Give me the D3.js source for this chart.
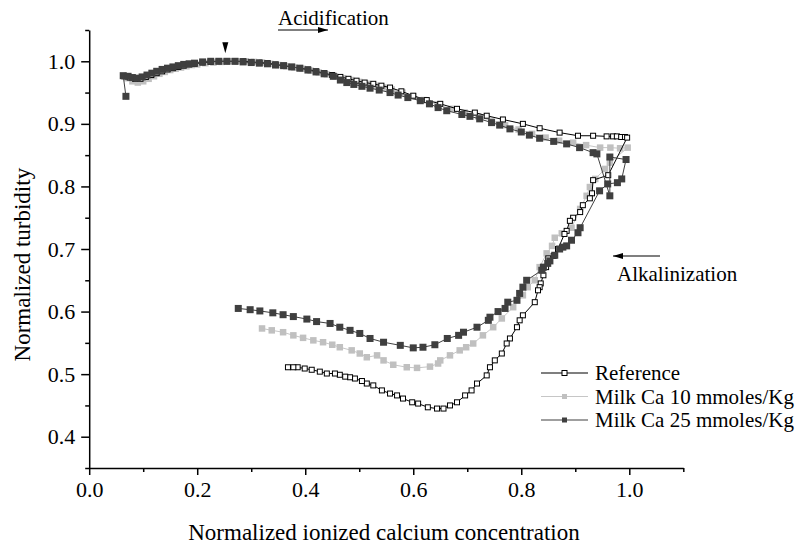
<!DOCTYPE html>
<html>
<head>
<meta charset="utf-8">
<script src="https://cdn.jsdelivr.net/npm/d3@7"></script>
<style>
  html, body { margin: 0; padding: 0; background: #fff; }
  svg text { font-family: "Liberation Serif", "Times New Roman", Times, "DejaVu Serif", serif !important; }
</style>
</head>
<body>
<svg id="chart" width="797" height="548"></svg>
<script>
// Normalized turbidity vs normalized ionized calcium, acidification then alkalinization.
const referencePoints = [
  [0.065,0.976],[0.075,0.974],[0.085,0.972],[0.095,0.972],[0.105,0.975],[0.115,0.978],[0.125,0.981],
  [0.135,0.984],[0.145,0.987],[0.155,0.989],[0.165,0.991],[0.175,0.993],[0.185,0.995],[0.195,0.996],
  [0.21,0.998],[0.225,0.999],[0.24,1.0],[0.255,1.0],[0.27,1.0],[0.285,1.0],[0.30,0.999],[0.315,0.998],
  [0.33,0.997],[0.345,0.995],[0.36,0.993],[0.375,0.991],[0.39,0.989],[0.405,0.987],[0.42,0.984],
  [0.435,0.981],[0.45,0.978],[0.465,0.975],[0.48,0.972],[0.495,0.969],[0.51,0.966],[0.526,0.964],
  [0.541,0.961],[0.557,0.958],[0.578,0.952],[0.600,0.945],[0.625,0.938],[0.650,0.932],[0.681,0.924],
  [0.714,0.918],[0.736,0.913],[0.766,0.907],[0.803,0.900],[0.834,0.893],[0.871,0.886],[0.905,0.881],
  [0.933,0.881],[0.958,0.880],[0.970,0.880],[0.977,0.880],[0.985,0.879],[0.992,0.879],[0.996,0.878],
  [0.961,0.818],[0.933,0.810],[0.931,0.789],[0.927,0.781],[0.914,0.770],[0.909,0.759],[0.896,0.750],
  [0.890,0.745],[0.884,0.729],[0.880,0.724],[0.868,0.700],[0.860,0.689],[0.850,0.685],[0.846,0.671],
  [0.841,0.658],[0.836,0.645],[0.834,0.639],[0.831,0.634],[0.825,0.615],[0.803,0.594],[0.797,0.586],
  [0.792,0.575],[0.779,0.557],[0.773,0.549],[0.764,0.533],[0.751,0.522],[0.742,0.511],[0.736,0.498],
  [0.718,0.485],[0.708,0.474],[0.696,0.466],[0.681,0.455],[0.668,0.450],[0.656,0.445],[0.644,0.445],
  [0.627,0.447],[0.609,0.453],[0.598,0.455],[0.581,0.461],[0.570,0.466],[0.557,0.469],[0.542,0.474],
  [0.526,0.482],[0.514,0.485],[0.505,0.489],[0.492,0.493],[0.483,0.495],[0.474,0.496],[0.464,0.499],
  [0.455,0.501],[0.440,0.501],[0.427,0.504],[0.412,0.507],[0.399,0.509],[0.386,0.511],[0.378,0.511],
  [0.368,0.511]
];

const milkCa10Points = [
  [0.07,0.973],[0.08,0.968],[0.09,0.966],[0.10,0.968],[0.11,0.972],[0.12,0.976],[0.13,0.980],[0.14,0.983],
  [0.15,0.986],[0.16,0.988],[0.17,0.990],[0.18,0.992],[0.19,0.994],[0.20,0.995],[0.215,0.997],[0.23,0.998],
  [0.245,0.999],[0.26,1.0],[0.275,1.0],[0.29,1.0],[0.305,0.999],[0.32,0.998],[0.335,0.996],[0.35,0.994],
  [0.365,0.992],[0.38,0.990],[0.395,0.988],[0.41,0.985],[0.425,0.982],[0.44,0.979],[0.455,0.976],
  [0.47,0.973],[0.485,0.970],[0.50,0.967],[0.515,0.964],[0.53,0.961],[0.545,0.958],[0.56,0.955],
  [0.58,0.950],[0.60,0.944],[0.62,0.938],[0.645,0.931],[0.67,0.924],[0.695,0.918],[0.72,0.912],
  [0.745,0.905],[0.77,0.898],[0.795,0.891],[0.82,0.884],[0.845,0.878],[0.87,0.873],[0.896,0.870],
  [0.92,0.866],[0.946,0.862],[0.965,0.862],[0.983,0.861],[0.997,0.862],
  [0.964,0.838],[0.955,0.828],[0.937,0.812],[0.927,0.799],[0.921,0.785],[0.909,0.764],[0.893,0.734],
  [0.875,0.725],[0.862,0.718],[0.857,0.705],[0.847,0.693],[0.834,0.671],[0.825,0.650],[0.812,0.639],
  [0.803,0.626],[0.785,0.607],[0.764,0.589],[0.748,0.575],[0.729,0.562],[0.711,0.549],[0.698,0.543],
  [0.686,0.538],[0.668,0.530],[0.650,0.522],[0.646,0.517],[0.631,0.512],[0.607,0.510],[0.588,0.511],
  [0.563,0.515],[0.545,0.522],[0.533,0.530],[0.514,0.527],[0.501,0.533],[0.486,0.538],[0.464,0.543],
  [0.450,0.547],[0.433,0.551],[0.415,0.554],[0.396,0.558],[0.378,0.562],[0.359,0.567],[0.338,0.570],
  [0.320,0.573]
];

const milkCa25Points = [
  [0.068,0.944],[0.063,0.977],[0.072,0.976],[0.080,0.974],[0.089,0.973],[0.098,0.975],[0.107,0.978],
  [0.116,0.981],[0.125,0.984],[0.135,0.987],[0.145,0.989],[0.155,0.991],[0.165,0.993],[0.175,0.995],
  [0.185,0.996],[0.195,0.997],[0.21,0.999],[0.225,1.0],[0.24,1.0],[0.255,1.0],[0.27,1.0],[0.285,0.999],
  [0.30,0.998],[0.315,0.997],[0.33,0.996],[0.345,0.994],[0.36,0.993],[0.375,0.991],[0.39,0.989],
  [0.405,0.986],[0.42,0.983],[0.435,0.980],[0.452,0.976],[0.465,0.970],[0.477,0.966],[0.49,0.963],
  [0.505,0.960],[0.52,0.957],[0.537,0.954],[0.557,0.950],[0.572,0.946],[0.59,0.942],[0.613,0.937],
  [0.63,0.932],[0.646,0.926],[0.662,0.921],[0.69,0.915],[0.705,0.912],[0.723,0.908],[0.745,0.902],
  [0.760,0.898],[0.779,0.892],[0.80,0.887],[0.815,0.882],[0.834,0.877],[0.860,0.872],[0.884,0.868],
  [0.908,0.862],[0.933,0.854],[0.940,0.852],[0.964,0.785],[0.964,0.847],[0.994,0.843],[0.986,0.812],
  [0.978,0.806],[0.960,0.804],[0.945,0.793],
  [0.909,0.734],[0.905,0.726],[0.893,0.714],[0.884,0.705],[0.877,0.703],[0.871,0.700],[0.862,0.690],
  [0.853,0.681],[0.849,0.677],[0.841,0.671],[0.838,0.666],[0.810,0.650],[0.803,0.639],[0.797,0.629],
  [0.792,0.618],[0.775,0.615],[0.770,0.605],[0.757,0.600],[0.742,0.591],[0.739,0.586],[0.718,0.575],
  [0.693,0.567],[0.684,0.562],[0.663,0.557],[0.640,0.547],[0.618,0.543],[0.600,0.542],[0.576,0.546],
  [0.545,0.551],[0.520,0.557],[0.501,0.565],[0.483,0.570],[0.464,0.575],[0.446,0.581],[0.421,0.584],
  [0.403,0.588],[0.378,0.592],[0.359,0.595],[0.340,0.598],[0.316,0.601],[0.298,0.603],[0.276,0.605]
];

const seriesNames = ["Reference", "Milk Ca 10 mmoles/Kg", "Milk Ca 25 mmoles/Kg"];
const xTickValues = [0.0, 0.2, 0.4, 0.6, 0.8, 1.0];
const xMinorTicks = [0.1, 0.3, 0.5, 0.7, 0.9, 1.1];
const yTickValues = [0.4, 0.5, 0.6, 0.7, 0.8, 0.9, 1.0];
const yMinorTicks = [0.35, 0.45, 0.55, 0.65, 0.75, 0.85, 0.95, 1.05];
const xLabel = "Normalized ionized calcium concentration";
const yLabel = "Normalized turbidity";
const acidLabel = "Acidification";
const alkLabel = "Alkalinization";
const peakX = 0.252;

const serif = "'Liberation Serif', 'Times New Roman', Times, 'DejaVu Serif', serif";
const svg = d3.select("#chart");
const x = d3.scaleLinear().domain([0, 1.1]).range([89.2, 683.3]);
const y = d3.scaleLinear().domain([0.35, 1.05]).range([468, 30]);

const fmt = d3.format(".1f");

// y axis: labelled major ticks and short minor ticks
svg.append("g").attr("transform", `translate(${x(0)},0)`)
  .call(d3.axisLeft(y).tickValues(yTickValues).tickFormat(fmt).tickSize(8).tickSizeOuter(0).tickPadding(6));
svg.append("g").attr("transform", `translate(${x(0)},0)`)
  .call(d3.axisLeft(y).tickValues(yMinorTicks).tickFormat("").tickSize(4).tickSizeOuter(0))
  .select(".domain").remove();

svg.append("g").attr("transform", `translate(0,${y(0.35)})`)
  .call(d3.axisBottom(x).tickValues(xTickValues).tickFormat(fmt).tickSize(7).tickSizeOuter(0).tickPadding(6));
svg.append("g").attr("transform", `translate(0,${y(0.35)})`)
  .call(d3.axisBottom(x).tickValues(xMinorTicks).tickFormat("").tickSize(4).tickSizeOuter(0))
  .select(".domain").remove();

svg.selectAll("g").attr("font-family", serif);
svg.selectAll(".domain, .tick line").attr("stroke", "#000").attr("stroke-width", 1.5);
svg.selectAll(".tick text").attr("font-family", serif).attr("font-size", 22).attr("fill", "#000");

// axis titles
svg.append("text").attr("x", 384).attr("y", 540).attr("text-anchor", "middle")
  .attr("font-family", serif).attr("font-size", 23).text(xLabel);
svg.append("text").attr("transform", `translate(30,${y(0.675)}) rotate(-90)`).attr("text-anchor", "middle")
  .attr("font-family", serif).attr("font-size", 23).text(yLabel);

const line = d3.line().x(d => x(d[0])).y(d => y(d[1]));

const styles = [
  { data: milkCa10Points, line: "#c6c6c6", fill: "#c0c0c0", stroke: "none", size: 6.5 },
  { data: referencePoints, line: "#000", fill: "#fff", stroke: "#000", size: 5 },
  { data: milkCa25Points, line: "#404040", fill: "#3f3f3f", stroke: "none", size: 7 }
];

styles.forEach(s => {
  const g = svg.append("g");
  g.append("path").datum(s.data).attr("d", line).attr("fill", "none")
    .attr("stroke", s.line).attr("stroke-width", 1);
  g.selectAll("rect").data(s.data).join("rect")
    .attr("x", d => x(d[0]) - s.size / 2).attr("y", d => y(d[1]) - s.size / 2)
    .attr("width", s.size).attr("height", s.size)
    .attr("fill", s.fill).attr("stroke", s.stroke).attr("stroke-width", s.stroke === "none" ? 0 : 1);
});

// peak marker
const px = x(peakX), py = y(1.0);
svg.append("path").attr("d", `M${px - 3},${py - 19} L${px + 3},${py - 19} L${px},${py - 8} Z`).attr("fill", "#000");

// direction annotations
svg.append("defs").append("marker").attr("id", "arrowhead").attr("viewBox", "0 0 10 6")
  .attr("refX", 10).attr("refY", 3).attr("markerWidth", 10).attr("markerHeight", 6)
  .attr("markerUnits", "userSpaceOnUse").attr("orient", "auto")
  .append("path").attr("d", "M0,0 L10,3 L0,6 Z").attr("fill", "#000");

svg.append("text").attr("x", 278).attr("y", 25).attr("font-family", serif).attr("font-size", 21).text(acidLabel);
svg.append("line").attr("x1", 278).attr("x2", 328).attr("y1", 30).attr("y2", 30)
  .attr("stroke", "#000").attr("stroke-width", 1.2).attr("marker-end", "url(#arrowhead)");

svg.append("text").attr("x", 617).attr("y", 281).attr("font-family", serif).attr("font-size", 21).text(alkLabel);
svg.append("line").attr("x1", 660).attr("x2", 613).attr("y1", 256).attr("y2", 256)
  .attr("stroke", "#000").attr("stroke-width", 1.2).attr("marker-end", "url(#arrowhead)");

// legend
const legendStyles = [
  { line: "#000", fill: "#fff", stroke: "#000", size: 5 },
  { line: "#c6c6c6", fill: "#c0c0c0", stroke: "none", size: 5 },
  { line: "#404040", fill: "#3f3f3f", stroke: "none", size: 5 }
];
const legend = svg.append("g");
seriesNames.forEach((name, i) => {
  const ly = 373 + i * 23.5;
  const st = legendStyles[i];
  legend.append("line").attr("x1", 541).attr("x2", 588).attr("y1", ly).attr("y2", ly)
    .attr("stroke", st.line).attr("stroke-width", 1.2);
  legend.append("rect").attr("x", 564.5 - st.size / 2).attr("y", ly - st.size / 2)
    .attr("width", st.size).attr("height", st.size).attr("fill", st.fill)
    .attr("stroke", st.stroke).attr("stroke-width", st.stroke === "none" ? 0 : 1);
  legend.append("text").attr("x", 595).attr("y", ly + 7).attr("font-family", serif).attr("font-size", 21).text(name);
});
</script>
</body>
</html>
